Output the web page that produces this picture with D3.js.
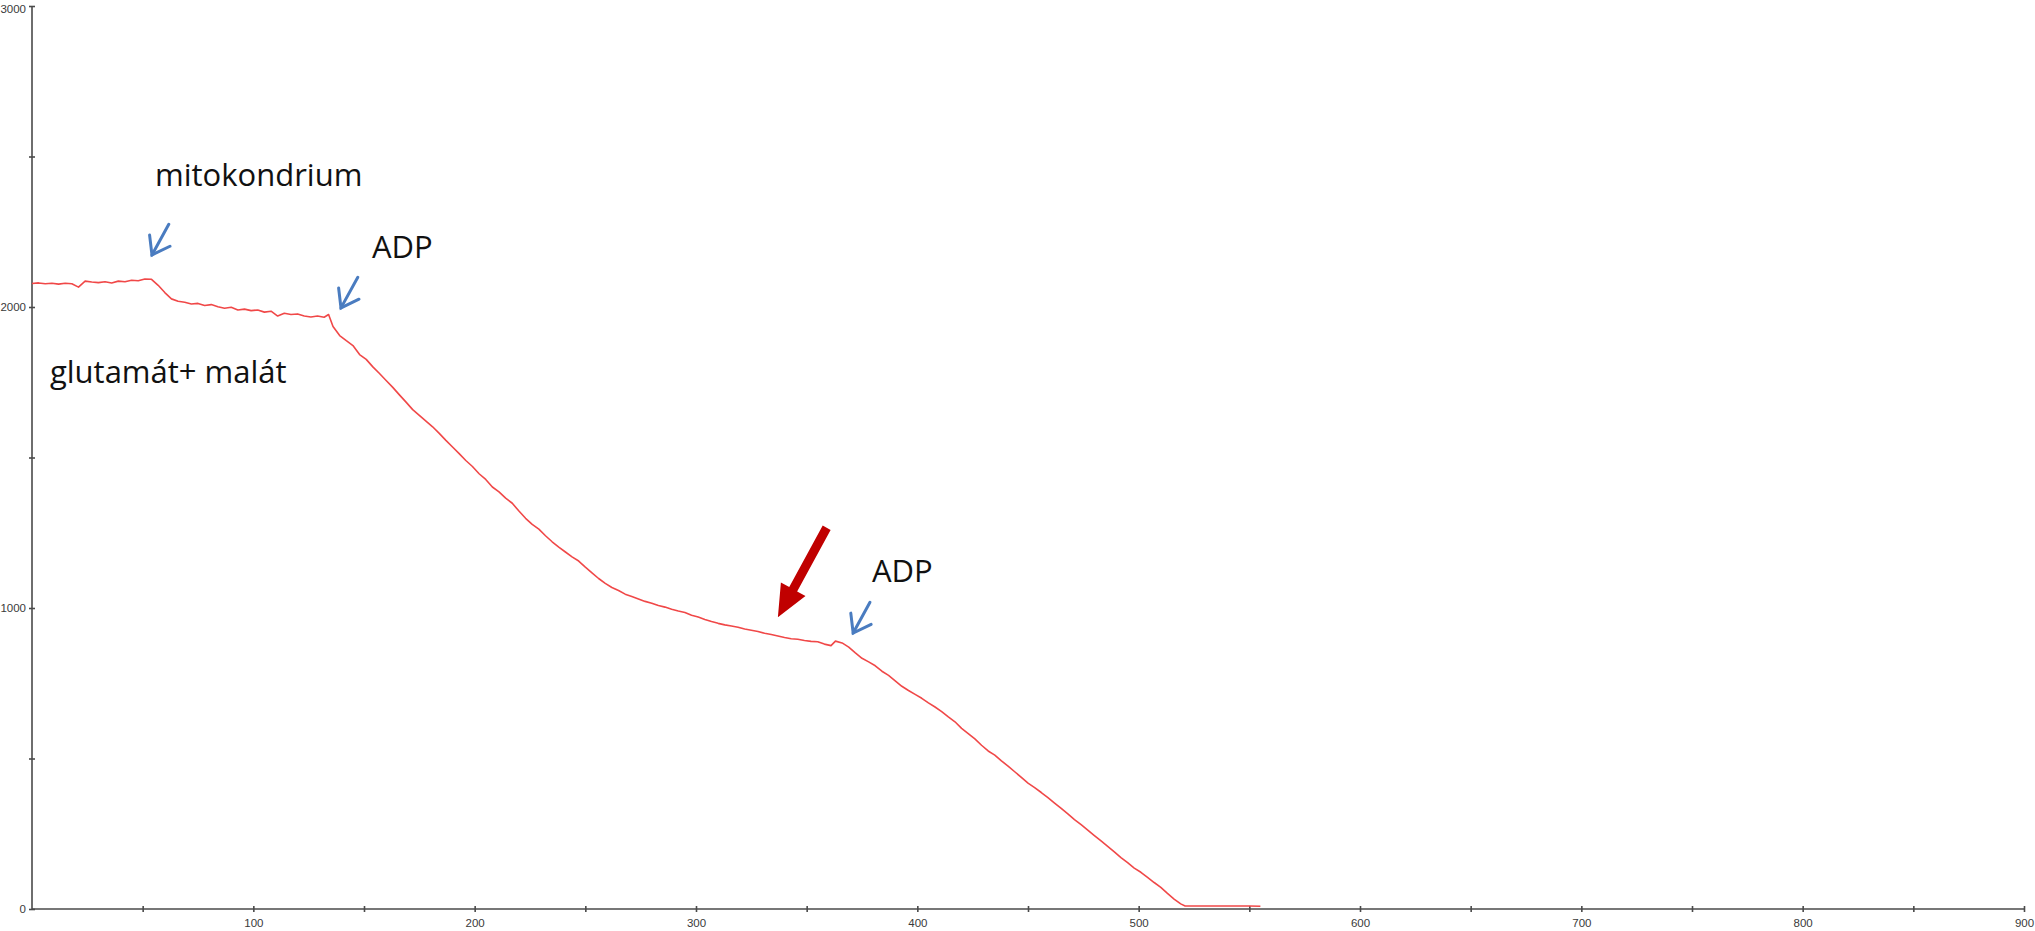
<!DOCTYPE html>
<html>
<head>
<meta charset="utf-8">
<script src="https://cdn.jsdelivr.net/npm/d3@7"></script>
<style>
  html, body { margin: 0; padding: 0; background: #fff; overflow: hidden; }
  svg { display: block; }
</style>
</head>
<body>
<svg id="chart" width="2035" height="931"></svg>
<script>
// ---- data (time, O2 signal) ----
const timeValues = [0,3,6,9,12,15,18,21,24,27,30,33,36,39,42,45,48,51,54,57,60,63,66,69,72,75,78,81,84,87,90,93,96,99,102,105,108,111,114,117,120,123,126,129,132,134,136,139,142,145,148,151,154,157,160,163,166,169,172,175,178,181,184,187,190,193,196,199,202,205,208,211,214,217,220,223,226,229,232,235,238,241,244,247,250,253,256,259,262,265,268,271,274,277,280,283,286,289,292,295,298,301,304,307,310,313,316,319,322,325,328,331,334,337,340,343,346,349,352,355,358,361,363,366,369,372,375,378,381,384,387,390,393,396,399,402,405,408,411,414,417,420,423,426,429,432,435,438,441,444,447,450,453,456,459,462,465,468,471,474,477,480,483,486,489,492,495,498,501,504,507,510,513,516,519,521,525,530,540,550,555];
const signalValues = [2078,2080,2077,2079,2076,2079,2077,2066,2086,2083,2081,2084,2080,2086,2084,2089,2087,2093,2092,2072,2048,2027,2019,2016,2010,2012,2005,2008,2001,1996,1999,1990,1993,1988,1990,1983,1986,1970,1979,1975,1977,1970,1967,1970,1966,1975,1935,1905,1888,1872,1842,1826,1801,1779,1756,1733,1708,1684,1659,1640,1621,1602,1580,1557,1535,1513,1490,1470,1446,1427,1402,1386,1365,1348,1322,1298,1278,1262,1240,1220,1202,1186,1170,1156,1136,1117,1098,1082,1068,1058,1046,1038,1030,1022,1016,1008,1003,996,990,985,976,970,962,955,949,944,940,936,930,926,922,916,912,907,902,898,896,892,889,888,880,875,890,884,870,851,833,821,808,790,776,758,740,726,713,700,685,671,656,638,622,600,583,565,544,525,511,492,475,456,437,418,403,387,370,352,334,316,297,280,262,244,226,208,190,171,154,136,122,105,88,72,52,33,17,10,10,10,10,10,9];

// axes
const xDomain = [0, 900];
const yDomain = [0, 3000];
const xTicks = [50,100,150,200,250,300,350,400,450,500,550,600,650,700,750,800,850,900];
const yTicks = [0,500,1000,1500,2000,2500,3000];

// annotations (data coordinates)
const labelTexts = ["mitokondrium", "ADP", "ADP", "glutamát+ malát"];
const labelT = [55.6, 153.6, 379.5, 8.1];
const labelV = [2402, 2163, 1086, 1747];
const blueArrowT = [54.2, 139.6, 371.0];
const blueArrowV = [2173, 1997, 917];
const redArrowT = [337];
const redArrowV = [969];

// ---- drawing ----
const svg = d3.select("#chart");
const x = d3.scaleLinear().domain(xDomain).range([32, 2024]);
const y = d3.scaleLinear().domain(yDomain).range([909, 6]);

const axisColor = "#4a4a4a";

const gx = svg.append("g").attr("transform", "translate(0,909)")
  .call(d3.axisBottom(x).tickValues(xTicks).tickSize(3).tickPadding(7)
    .tickFormat(d => d % 100 === 0 ? d : ""));
const gy = svg.append("g").attr("transform", "translate(32,0)")
  .call(d3.axisLeft(y).tickValues(yTicks).tickSize(3).tickPadding(3)
    .tickFormat(d => d % 1000 === 0 ? d : ""));

[gx, gy].forEach(g => {
  g.select(".domain").attr("stroke", axisColor).attr("stroke-width", 1.6);
  g.selectAll(".tick line").attr("stroke", axisColor).attr("stroke-width", 1.6);
  g.selectAll(".tick text").attr("fill", "#3a3a3a")
    .style("font-family", "'Liberation Sans', Arial, sans-serif").style("font-size", "11.5px");
});
gx.selectAll(".tick line").attr("y1", -3).attr("y2", 3);
gy.selectAll(".tick line").attr("x1", -3).attr("x2", 3);
gy.selectAll(".tick text").filter(d => d === 3000).attr("y", 3);
gx.select(".domain").attr("d", `M${x(0)},0H${x(900)}`);
gy.select(".domain").attr("d", `M0,${y(3000)}V${y(0)}`);

// data line
const pts = timeValues.map((t, i) => [t, signalValues[i]]);
svg.append("path")
  .datum(pts)
  .attr("fill", "none")
  .attr("stroke", "#f04848")
  .attr("stroke-width", 1.6)
  .attr("stroke-linejoin", "round")
  .attr("d", d3.line().x(d => x(d[0])).y(d => y(d[1])));

// text labels
labelTexts.forEach((txt, i) => {
  svg.append("text")
    .attr("x", x(labelT[i]))
    .attr("y", y(labelV[i]))
    .attr("fill", "#111")
    .style("font-family", "'Open Sans', 'Noto Sans', sans-serif")
    .style("font-size", "31px")
    .text(txt);
});

// blue open arrows
const blue = "#4a7cc0";
blueArrowT.forEach((t, i) => {
  const tx = x(t), ty = y(blueArrowV[i]);
  const g = svg.append("g").attr("stroke", blue).attr("stroke-width", 3)
    .attr("stroke-linecap", "round").attr("fill", "none");
  const ang = Math.atan2(-31, 17);
  const len = 35, arm = 20, spread = 0.62;
  g.append("line").attr("x1", tx).attr("y1", ty)
    .attr("x2", tx + len * Math.cos(ang)).attr("y2", ty + len * Math.sin(ang));
  g.append("path").attr("stroke-linejoin", "miter")
    .attr("d", `M${tx + arm * Math.cos(ang - spread)},${ty + arm * Math.sin(ang - spread)}L${tx},${ty}L${tx + arm * Math.cos(ang + spread)},${ty + arm * Math.sin(ang + spread)}`);
});

// red solid arrow
const red = "#c00000";
redArrowT.forEach((t, i) => {
  const tx = x(t), ty = y(redArrowV[i]);
  const ang = Math.atan2(-90, 49);
  const total = 102, head = 32, headW = 14, shaftW = 4.5;
  const ux = Math.cos(ang), uy = Math.sin(ang);
  const px = -uy, py = ux;
  const bx = tx + head * ux, by = ty + head * uy;
  const ex = tx + total * ux, ey = ty + total * uy;
  const p = [
    [tx, ty],
    [bx + headW * px, by + headW * py],
    [bx + shaftW * px, by + shaftW * py],
    [ex + shaftW * px, ey + shaftW * py],
    [ex - shaftW * px, ey - shaftW * py],
    [bx - shaftW * px, by - shaftW * py],
    [bx - headW * px, by - headW * py]
  ];
  svg.append("path").attr("fill", red).attr("d", "M" + p.map(q => q.join(",")).join("L") + "Z");
});
</script>
</body>
</html>
